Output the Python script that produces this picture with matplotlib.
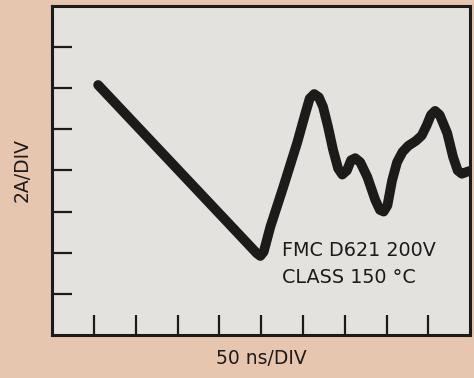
import matplotlib.pyplot as plt

# trace (x in divisions, y in divisions)
trace_x = [1.10, 4.90, 4.98, 5.06, 5.22, 5.53, 5.86, 6.06, 6.16, 6.27, 6.38,
           6.48, 6.60, 6.72, 6.84, 6.94, 7.05, 7.15, 7.25, 7.37, 7.54, 7.73,
           7.84, 7.93, 8.02, 8.13, 8.25, 8.38, 8.52, 8.70, 8.84, 8.96, 9.06,
           9.16, 9.27, 9.45, 9.59, 9.70, 9.80, 9.93, 10.10]
trace_y = [6.08, 1.98, 1.92, 2.02, 2.63, 3.60, 4.67, 5.40, 5.75, 5.86, 5.78,
           5.55, 5.06, 4.50, 4.05, 3.90, 4.00, 4.25, 4.30, 4.20, 3.84, 3.28,
           3.04, 3.00, 3.15, 3.75, 4.20, 4.45, 4.60, 4.72, 4.85, 5.10, 5.35,
           5.45, 5.35, 4.91, 4.33, 4.00, 3.92, 3.97, 4.02]
x_ticks = [1, 2, 3, 4, 5, 6, 7, 8, 9]
y_ticks = [1, 2, 3, 4, 5, 6, 7]
note_lines = ["FMC D621 200V", "CLASS 150 °C"]

ink = "#1d1a1a"
fig = plt.figure(figsize=(4.74, 3.78), dpi=100, facecolor="#e7c6b0")
ax = fig.add_axes([0.110, 0.114, 0.882, 0.870])
ax.set_facecolor("#e3e2de")

ax.plot(trace_x, trace_y, color=ink, lw=7, solid_joinstyle="round",
        solid_capstyle="round", clip_on=True)

ax.set_xlim(0, 10)
ax.set_ylim(0, 8)
ax.set_xticks(x_ticks)
ax.set_yticks(y_ticks)
ax.set_xticklabels([])
ax.set_yticklabels([])
ax.tick_params(direction="in", length=14.5, width=1.6, color=ink)
for s in ax.spines.values():
    s.set_linewidth(2.2)
    s.set_color(ink)

ax.text(5.50, 1.92, note_lines[0], fontsize=13.8, color=ink, family="DejaVu Sans")
ax.text(5.50, 1.26, note_lines[1], fontsize=13.8, color=ink, family="DejaVu Sans")

ax.set_xlabel("50 ns/DIV", fontsize=13.5, color=ink, labelpad=7)
ax.set_ylabel("2A/DIV", fontsize=13.5, color=ink, labelpad=11)

fig.savefig("out.png", dpi=100, facecolor=fig.get_facecolor())
